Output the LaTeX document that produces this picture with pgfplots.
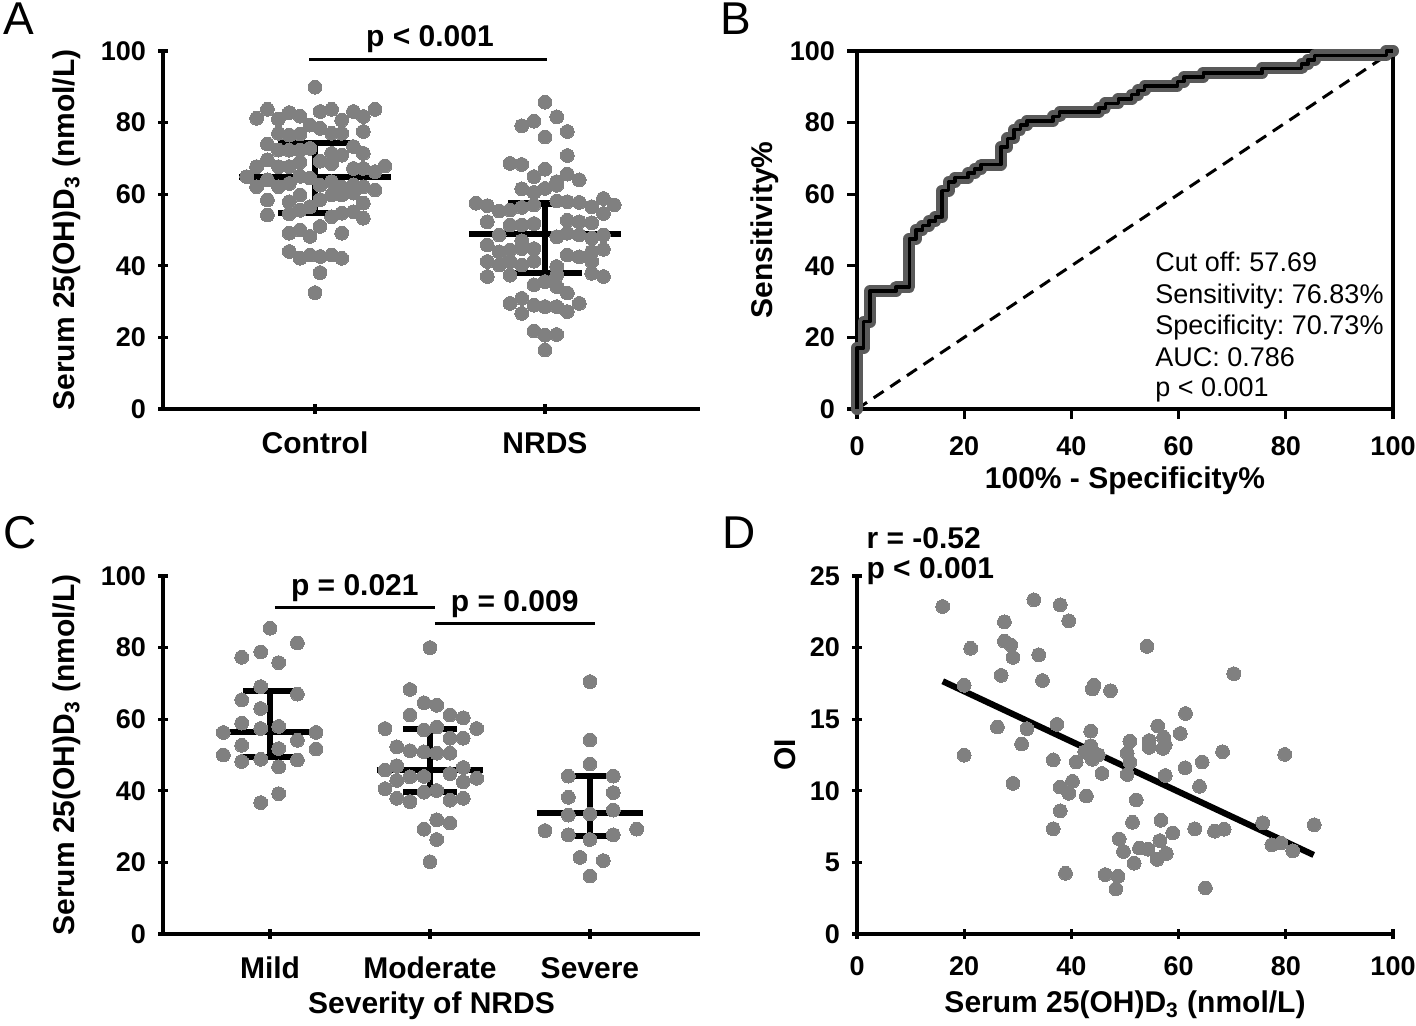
\documentclass[border=0pt]{standalone}
\usepackage{pgfplots}
\pgfplotsset{compat=1.18}
\usepackage{fontspec}
\setmainfont{Liberation Sans}
\definecolor{dotgray}{RGB}{128,128,128}
\definecolor{bandgray}{RGB}{90,90,90}
\newcommand{\lab}{\fontsize{15}{18}\selectfont\bfseries}
\newcommand{\cat}{\fontsize{15}{18}\selectfont\bfseries}
\newcommand{\tck}{\fontsize{13.5}{16}\selectfont\bfseries}
\pgfplotsset{
  panel/.style={
    scale only axis,
    axis line style={line width=1.6pt,-},
    every tick/.style={line width=1.6pt,black},
    major tick length=5pt,
    tick align=outside,
    ticklabel style={font=\tck},
    xticklabel style={yshift=-5.5pt},
    yticklabel style={xshift=-2.5pt},
    label style={font=\lab},
    /pgf/number format/assume math mode=true,
    clip=false,
  },
  noarrows/.style={
    axis line style={-},
    every inner x axis line/.append style={-},
    every inner y axis line/.append style={-},
    every outer x axis line/.append style={-},
    every outer y axis line/.append style={-},
  },
  dots/.style={dotgray, only marks, mark=*, mark size=3.45pt, mark options={solid, fill=dotgray, draw=dotgray, line width=0pt}, forget plot},
  bar/.style={black, line width=3.1pt, forget plot, mark=none},
  sig/.style={black, line width=1.5pt, forget plot, mark=none},
}
\begin{document}
\frenchspacing
\begin{tikzpicture}
\path[use as bounding box] (0pt,0pt) rectangle (708pt,512.5pt);
% panel letters
\node[anchor=base west, inner sep=0pt, font=\fontsize{23}{26}\selectfont] at (1.5pt,495pt) {A};
\node[anchor=base west, inner sep=0pt, font=\fontsize{23}{26}\selectfont] at (360pt,495pt) {B};
\node[anchor=base west, inner sep=0pt, font=\fontsize{23}{26}\selectfont] at (1.5pt,238.5pt) {C};
\node[anchor=base west, inner sep=0pt, font=\fontsize{23}{26}\selectfont] at (361pt,238.5pt) {D};

% ---------------- Panel A ----------------
\begin{axis}[panel, at={(81.5pt,308pt)}, anchor=south west, width=268.5pt, height=179pt,
  axis x line=bottom, axis y line=left, noarrows,
  xmin=-0.661, xmax=1.674, ymin=0, ymax=100,
  xtick={0,1}, xticklabels={Control,NRDS}, xticklabel style={font=\cat},
  ytick={0,20,...,100},
  ylabel={Serum 25(OH)D\textsubscript{3} (nmol/L)},
  ylabel style={at={(axis description cs:-0.179,0.5)}, anchor=center}]
\addplot[dots] coordinates {
(0,89.9)
(-0.254,81.2) (-0.207,83.7) (-0.159,81.0) (-0.112,82.8) (-0.065,81.8) (0.022,83.1) (0.072,83.7) (0.116,80.7) (0.167,83.1) (0.210,81.7) (0.261,83.7)
(-0.159,77.0) (-0.112,76.5) (-0.022,79.3) (0.022,78.4) (0.072,77.0) (0.116,77.0) (0.210,77.5) (-0.065,76.8)
(-0.207,74.0) (-0.159,72.3) (-0.112,72.3) (-0.065,72.3) (-0.022,72.8) (0.072,71.4) (0.116,70.9) (0.167,73.3) (0.210,71.4)
(-0.254,67.7) (-0.207,69.6) (-0.159,67.7) (-0.112,67.7) (-0.065,69.0) (0.022,69.2) (0.072,68.5) (0.167,67.2) (0.210,67.2) (0.261,66.3) (0.304,67.9)
(-0.297,64.9) (-0.254,62.1) (-0.207,64.0) (-0.159,62.1) (-0.112,63.0) (-0.022,64.5) (0.022,62.5) (0.072,63.5) (0.116,62.0) (0.167,62.6) (0.210,62.1) (0.261,61.2)
(-0.207,58.4) (-0.112,57.9) (-0.065,59.8) (0.072,59.8) (0.116,59.8) (0.167,60.3) (0.210,57.5) (0.022,58.5)
(-0.207,54.2) (-0.112,54.5) (-0.022,56.5) (0.072,53.7) (0.116,54.7) (0.167,55.1) (0.210,53.3) (-0.065,55.5)
(-0.112,49.1) (-0.065,50.0) (-0.022,48.2) (0.022,51.0) (0.116,49.1)
(-0.112,44.0) (-0.065,42.1) (-0.022,43.0) (0.022,42.6) (0.072,43.0) (0.116,42.1)
(0.022,38.1) (0,32.5) (-0.065,65.0)
};
\addplot[dots] coordinates {
(1,85.7) (0.899,79.1) (0.952,80.4) (1.051,81.6) (1,76.0) (1.097,77.5) (1.097,70.8) (0.848,68.6) (0.899,68.3) (1,67.0)
(0.952,64.9) (1.051,63.5) (1.097,65.6) (1.149,64.0) (0.899,61.5) (0.952,60.5) (1,61.6) (1.051,62.5)
(0.700,57.5) (0.749,56.8) (0.801,55.3) (0.848,55.6) (0.899,56.3) (0.952,57.0) (1.051,58.1) (1.097,57.9) (1.149,57.7) (1.203,56.5) (1.254,58.8) (1.301,57.0)
(0.749,52.3) (0.848,51.4) (0.899,51.4) (0.952,51.8) (1.097,52.7) (1.149,52.3) (1.203,52.0) (1.254,54.6)
(0.801,48.6) (1.051,48.1) (1.097,49.1) (1.149,48.6) (1.203,47.7) (1.254,48.6)
(0.749,45.8) (0.801,43.9) (0.848,44.4) (0.899,44.8) (0.952,44.8) (1.097,43.0) (1.149,42.5) (1.203,43.9) (1.254,44.6)
(0.749,41.2) (0.801,40.2) (0.848,41.2) (0.899,40.2) (0.952,41.3) (1.051,39.8) (1.203,41.2)
(0.749,37.0) (0.848,37.4) (1.051,37.4) (1.203,37.9) (1.254,37.0)
(0.952,34.7) (1,35.6) (1.051,34.2) (1.097,32.4)
(0.848,29.5) (0.899,30.9) (0.952,29.0) (1,28.6) (1.051,28.6) (1.097,27.2) (1.149,29.5) (0.899,26.7)
(0.952,21.8) (1,20.6) (1.051,20.8) (1,16.5) (0.899,47.0)
};
% mean and SD
\addplot[bar] coordinates {(-0.33,64.7) (0.33,64.7)};
\addplot[bar] coordinates {(0,54.8) (0,74.4)};
\addplot[bar] coordinates {(-0.16,74.4) (0.16,74.4)};
\addplot[bar] coordinates {(-0.16,54.8) (0.16,54.8)};
\addplot[bar] coordinates {(0.67,48.9) (1.33,48.9)};
\addplot[bar] coordinates {(1,38.1) (1,57.4)};
\addplot[bar] coordinates {(0.84,57.4) (1.16,57.4)};
\addplot[bar] coordinates {(0.84,38.1) (1.16,38.1)};
\addplot[sig] coordinates {(-0.026,97.5) (1.009,97.5)};
\node[font=\lab] at (axis cs:0.5,103.4) {p < 0.001};
\end{axis}

% ---------------- Panel B ----------------
\begin{axis}[panel, at={(428.5pt,308pt)}, anchor=south west, width=268pt, height=179pt,
  xmin=0, xmax=100, ymin=0, ymax=100,
  xtick={0,20,...,100}, ytick={0,20,...,100},
  xtick pos=left, ytick pos=left,
  xlabel={100\% - Specificity\%}, ylabel={Sensitivity\%},
  ylabel style={at={(axis description cs:-0.172,0.5)}, anchor=center},
  xlabel style={at={(axis description cs:0.5,-0.2)}, anchor=center}]
\addplot[black, line width=1.5pt, dash pattern=on 6pt off 4pt, forget plot] coordinates {(0,0) (100,100)};
\addplot[bandgray, line width=6pt, line join=round, line cap=round, forget plot] coordinates {
(0,0) (0,17.07) (1.22,17.07) (1.22,24.39) (2.44,24.39) (2.44,32.93) (7.32,32.93) (7.32,34.15) (9.76,34.15) (9.76,47.56)
(10.98,47.56) (10.98,50.00) (12.20,50.00) (12.20,51.22) (13.41,51.22) (13.41,52.44) (14.63,52.44) (14.63,53.66) (15.85,53.66) (15.85,60.98)
(17.07,60.98) (17.07,63.41) (18.29,63.41) (18.29,64.63) (20.73,64.63) (20.73,65.85) (21.95,65.85) (21.95,67.07) (23.17,67.07) (23.17,68.29)
(26.83,68.29) (26.83,73.17) (28.05,73.17) (28.05,75.61) (29.27,75.61) (29.27,78.05) (30.49,78.05) (30.49,79.27) (31.71,79.27) (31.71,80.49)
(36.59,80.49) (36.59,81.71) (37.80,81.71) (37.80,82.93) (45.12,82.93) (45.12,84.15) (46.34,84.15) (46.34,85.37) (48.78,85.37) (48.78,86.59)
(51.22,86.59) (51.22,87.80) (52.44,87.80) (52.44,89.02) (53.66,89.02) (53.66,90.24) (59.76,90.24) (59.76,91.46) (60.98,91.46) (60.98,92.68)
(64.63,92.68) (64.63,93.90) (75.61,93.90) (75.61,95.12) (82.93,95.12) (82.93,96.34) (84.15,96.34) (84.15,97.56) (85.37,97.56) (85.37,98.78)
(98.78,98.78) (98.78,100) (100,100)
};
\addplot[black, line width=1.8pt, line join=round, forget plot] coordinates {
(0,0) (0,17.07) (1.22,17.07) (1.22,24.39) (2.44,24.39) (2.44,32.93) (7.32,32.93) (7.32,34.15) (9.76,34.15) (9.76,47.56)
(10.98,47.56) (10.98,50.00) (12.20,50.00) (12.20,51.22) (13.41,51.22) (13.41,52.44) (14.63,52.44) (14.63,53.66) (15.85,53.66) (15.85,60.98)
(17.07,60.98) (17.07,63.41) (18.29,63.41) (18.29,64.63) (20.73,64.63) (20.73,65.85) (21.95,65.85) (21.95,67.07) (23.17,67.07) (23.17,68.29)
(26.83,68.29) (26.83,73.17) (28.05,73.17) (28.05,75.61) (29.27,75.61) (29.27,78.05) (30.49,78.05) (30.49,79.27) (31.71,79.27) (31.71,80.49)
(36.59,80.49) (36.59,81.71) (37.80,81.71) (37.80,82.93) (45.12,82.93) (45.12,84.15) (46.34,84.15) (46.34,85.37) (48.78,85.37) (48.78,86.59)
(51.22,86.59) (51.22,87.80) (52.44,87.80) (52.44,89.02) (53.66,89.02) (53.66,90.24) (59.76,90.24) (59.76,91.46) (60.98,91.46) (60.98,92.68)
(64.63,92.68) (64.63,93.90) (75.61,93.90) (75.61,95.12) (82.93,95.12) (82.93,96.34) (84.15,96.34) (84.15,97.56) (85.37,97.56) (85.37,98.78)
(98.78,98.78) (98.78,100) (100,100)
};
\node[anchor=base west, font=\fontsize{13.5}{16}\selectfont, inner sep=0pt] at (axis cs:55.6,38.3) {Cut off: 57.69};
\node[anchor=base west, font=\fontsize{13.5}{16}\selectfont, inner sep=0pt] at (axis cs:55.6,29.4) {Sensitivity: 76.83\%};
\node[anchor=base west, font=\fontsize{13.5}{16}\selectfont, inner sep=0pt] at (axis cs:55.6,20.7) {Specificity: 70.73\%};
\node[anchor=base west, font=\fontsize{13.5}{16}\selectfont, inner sep=0pt] at (axis cs:55.6,12.0) {AUC: 0.786};
\node[anchor=base west, font=\fontsize{13.5}{16}\selectfont, inner sep=0pt] at (axis cs:55.6,3.4) {p < 0.001};
\end{axis}

% ---------------- Panel C ----------------
\begin{axis}[panel, at={(81.5pt,45.5pt)}, anchor=south west, width=268.5pt, height=179pt,
  axis x line=bottom, axis y line=left, noarrows,
  xmin=-0.669, xmax=2.688, ymin=0, ymax=100,
  xtick={0,1,2}, xticklabels={Mild,Moderate,Severe}, xticklabel style={font=\cat},
  ytick={0,20,...,100},
  xlabel={Severity of NRDS},
  ylabel={Serum 25(OH)D\textsubscript{3} (nmol/L)},
  ylabel style={at={(axis description cs:-0.179,0.5)}, anchor=center},
  xlabel style={at={(axis description cs:0.5,-0.2)}, anchor=center}]
\addplot[dots] coordinates {
(0,85.4) (0.171,81.3) (-0.177,77.3) (-0.058,78.8) (0.054,75.8) (-0.058,69.1) (0.171,67.0) (-0.177,65.4) (-0.058,63.0)
(-0.177,58.9) (-0.058,57.4) (0.054,58.0) (-0.292,56.3) (0.288,56.3) (-0.177,52.7) (0.054,51.8) (0.171,54.1) (0.288,51.7)
(-0.292,50.0) (-0.177,48.2) (-0.058,48.8) (0.054,46.7) (0.171,48.6) (-0.058,36.7) (0.054,39.2)
};
\addplot[dots] coordinates {
(1,80.0) (0.875,68.3) (0.9625,64.6) (1.042,63.9) (0.875,61.2) (1.125,61.2) (1.208,60.4) (0.719,57.4) (1.292,57.4)
(0.9625,57.0) (1.042,57.8) (1.208,54.7) (1.125,54.7) (0.792,52.3) (0.875,51.2) (0.9625,50.9) (1.042,50.5) (1.125,50.5)
(0.719,45.8) (0.875,43.9) (1.125,44.8) (1.292,43.5) (0.792,42.9) (1.208,42.5) (0.719,40.6) (0.9625,39.6) (1.042,40.1)
(0.792,37.9) (0.875,37.0) (1.125,37.4) (1.208,37.9) (1.042,31.9) (1.125,31.0) (0.9625,29.3) (1.042,26.4) (1,20.2)
(0.792,47.0) (1.208,46.5) (0.9625,44.0)
};
\addplot[dots] coordinates {
(2,70.5) (2,54.2) (2,47.5) (1.865,44.1) (2.146,44.1) (2.146,39.5) (1.865,38.2) (1.865,33.2) (2.146,34.6) (2,33.5)
(1.719,28.9) (2.292,29.3) (1.865,27.7) (2.146,27.7) (2,26.4) (1.9375,21.4) (2.083,20.5) (2,16.2)
};
\addplot[bar] coordinates {(-0.333,56.5) (0.333,56.5)};
\addplot[bar] coordinates {(0,49.5) (0,67.9)};
\addplot[bar] coordinates {(-0.167,67.9) (0.167,67.9)};
\addplot[bar] coordinates {(-0.167,49.5) (0.167,49.5)};
\addplot[bar] coordinates {(0.667,45.8) (1.333,45.8)};
\addplot[bar] coordinates {(1,39.6) (1,57.3)};
\addplot[bar] coordinates {(0.833,57.3) (1.167,57.3)};
\addplot[bar] coordinates {(0.833,39.6) (1.167,39.6)};
\addplot[bar] coordinates {(1.667,33.7) (2.333,33.7)};
\addplot[bar] coordinates {(2,27.4) (2,44.2)};
\addplot[bar] coordinates {(1.833,44.2) (2.167,44.2)};
\addplot[bar] coordinates {(1.833,27.4) (2.167,27.4)};
\addplot[sig] coordinates {(0.03,91.1) (1.03,91.1)};
\addplot[sig] coordinates {(1.03,86.8) (2.03,86.8)};
\node[font=\lab] at (axis cs:0.53,96.7) {p = 0.021};
\node[font=\lab] at (axis cs:1.53,92.2) {p = 0.009};
\end{axis}

% ---------------- Panel D ----------------
\begin{axis}[panel, at={(428.5pt,45.5pt)}, anchor=south west, width=268pt, height=179pt,
  axis x line=bottom, axis y line=left, noarrows,
  xmin=0, xmax=100, ymin=0, ymax=25,
  xtick={0,20,...,100}, ytick={0,5,...,25},
  xlabel={Serum 25(OH)D\textsubscript{3} (nmol/L)}, ylabel={OI},
  ylabel style={at={(axis description cs:-0.134,0.5)}, anchor=center},
  xlabel style={at={(axis description cs:0.5,-0.197)}, anchor=center}]
\addplot[dots] coordinates {
(16.0,22.87) (33.0,23.34) (37.9,22.99) (39.5,21.87) (27.5,21.80) (21.2,19.95) (27.5,20.45) (28.7,20.19) (29.1,19.31) (33.9,19.50)
(54.1,20.09) (26.9,18.06) (20.0,17.37) (34.6,17.70) (44.2,17.37) (43.9,17.11) (47.3,16.99) (70.3,18.18) (26.2,14.45) (31.7,14.34)
(37.3,14.64) (30.7,13.27) (20.0,12.49) (29.1,10.52) (36.6,12.16) (40.9,12.01) (43.6,14.17) (43.6,13.15) (42.5,12.73) (45.0,12.51)
(43.9,12.20) (45.7,11.21) (40.2,10.66) (37.9,10.26) (39.5,9.83) (42.8,9.64) (37.9,8.60) (36.6,7.35) (38.9,4.24) (50.9,13.46)
(50.4,12.63) (50.9,12.01) (50.4,11.14) (52.1,9.36) (51.4,7.80) (48.9,6.64) (49.7,5.76) (51.7,4.95) (52.7,6.00) (54.3,5.92)
(46.3,4.15) (48.7,4.03) (48.3,3.15) (54.5,13.51) (54.5,13.03) (56.1,14.53) (57.2,13.74) (57.1,12.96) (57.5,11.07) (56.7,7.94)
(56.5,6.52) (57.7,5.62) (56.0,5.21) (58.9,7.06) (60.3,14.00) (61.3,15.40) (61.2,11.61) (64.4,12.01) (63.9,10.31) (63.0,7.35)
(66.7,7.18) (68.5,7.32) (68.2,12.73) (65.0,3.22) (75.7,7.77) (77.4,6.23) (79.1,6.35) (81.3,5.81) (79.8,12.54) (85.3,7.63)
(43.5,12.5) (57.5,13.2)
};
\addplot[bar] coordinates {(16.0,17.65) (85.2,5.52)};
\node[anchor=base west, font=\lab, inner sep=0pt] at (axis cs:1.7,26.95) {r = -0.52};
\node[anchor=base west, font=\lab, inner sep=0pt] at (axis cs:1.7,24.86) {p < 0.001};
\end{axis}
\end{tikzpicture}
\end{document}
